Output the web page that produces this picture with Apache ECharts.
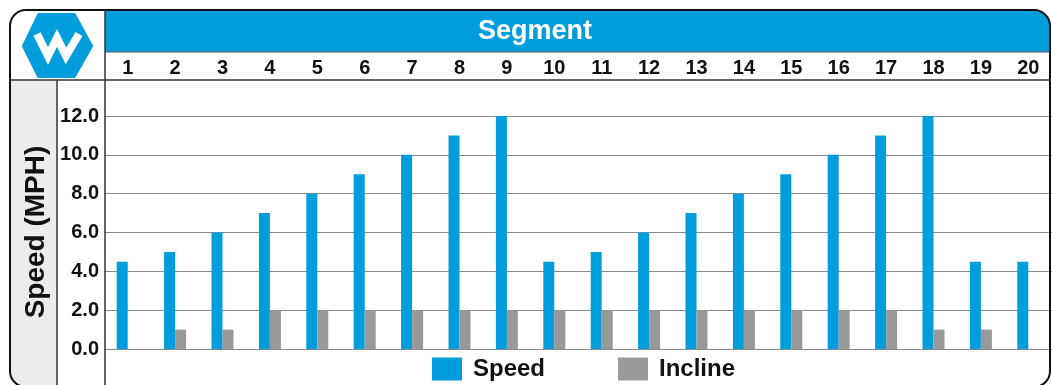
<!DOCTYPE html>
<html>
<head>
<meta charset="utf-8">
<script src="https://cdn.jsdelivr.net/npm/echarts@6/dist/echarts.min.js"></script>
<style>
  html, body { margin: 0; padding: 0; background: #fff; }
  #chart { width: 1052px; height: 385px; }
</style>
</head>
<body>
<div id="chart"></div>
<script>
// data
const segments = ['1', '2', '3', '4', '5', '6', '7', '8', '9', '10',
  '11', '12', '13', '14', '15', '16', '17', '18', '19', '20']
const speed = [4.5, 5, 6, 7, 8, 9, 10, 11, 12, 4.5, 5, 6, 7, 8, 9, 10, 11, 12, 4.5, 4.5]
const incline = [0, 1, 1, 2, 2, 2, 2, 2, 2, 2, 2, 2, 2, 2, 2, 2, 2, 1, 1, 0]
const yTicks = [0, 2, 4, 6, 8, 10, 12]

const blue = '#009ddc'
const gray = '#999999'
const font = '"Liberation Sans", Arial, sans-serif'

const chart = echarts.init(document.getElementById('chart'))

chart.setOption({
  animation: false,
  textStyle: { fontFamily: font },
  graphic: [
    // gray column behind the y axis name
    { type: 'rect', z: 0, shape: { x: 10, y: 80, width: 47, height: 306, r: [0, 0, 0, 16] },
      style: { fill: '#ececec' } },
    // blue header band
    { type: 'rect', z: 0, shape: { x: 105, y: 11, width: 945, height: 41, r: [0, 15, 0, 0] },
      style: { fill: blue } },
    { type: 'line', z: 1, shape: { x1: 105, y1: 52, x2: 1051, y2: 52 },
      style: { stroke: '#555', lineWidth: 1 } },
    { type: 'text', z: 2, left: 478, top: 18,
      style: { text: 'Segment', fill: '#fff', font: 'bold 27px ' + font } },
    // frame
    { type: 'rect', z: 3, shape: { x: 10, y: 10, width: 1040, height: 377, r: 16 },
      style: { fill: 'none', stroke: '#111', lineWidth: 2 } },
    { type: 'line', z: 3, shape: { x1: 10, y1: 80, x2: 1051, y2: 80 },
      style: { stroke: '#333', lineWidth: 1.5 } },
    { type: 'line', z: 3, shape: { x1: 105, y1: 10, x2: 105, y2: 385 },
      style: { stroke: '#333', lineWidth: 1.5 } },
    { type: 'line', z: 3, shape: { x1: 57, y1: 80, x2: 57, y2: 385 },
      style: { stroke: '#333', lineWidth: 1.5 } },
    // logo
    { type: 'polygon', z: 2,
      shape: { points: [[24, 46], [39, 15], [74, 15], [91, 46], [74, 76], [39, 76]] },
      style: { fill: blue, stroke: blue, lineWidth: 4, lineJoin: 'round' } },
    { type: 'polyline', z: 3,
      shape: { points: [[37, 34], [48, 56], [57, 38], [66, 56], [79, 34]] },
      style: { stroke: '#fff', lineWidth: 8, fill: 'none', lineJoin: 'miter' } },
    // y axis name
    { type: 'text', z: 4, x: 36, y: 232, rotation: Math.PI / 2,
      style: { text: 'Speed (MPH)', fill: '#111', font: 'bold 28px ' + font,
        align: 'center', verticalAlign: 'middle' } }
  ],
  legend: {
    left: 432,
    top: 357,
    padding: 0,
    itemWidth: 30,
    itemHeight: 23,
    itemGap: 73,
    icon: 'rect',
    textStyle: { fontSize: 24, fontWeight: 'bold', color: '#111', padding: [0, 0, 0, 6] },
    data: ['Speed', 'Incline']
  },
  grid: {
    left: 104,
    top: 116,
    width: 956,
    height: 233
  },
  xAxis: {
    type: 'category',
    position: 'top',
    data: segments,
    axisLine: { show: false },
    axisTick: { show: false },
    axisLabel: { margin: 38, fontSize: 20, fontWeight: 'bold', color: '#111' }
  },
  yAxis: {
    type: 'value',
    min: 0,
    max: 12,
    interval: 2,
    axisLine: { show: false },
    axisTick: { show: false },
    axisLabel: {
      margin: 5, fontSize: 20, fontWeight: 'bold', color: '#111',
      formatter: v => yTicks.includes(v) ? v.toFixed(1) : ''
    },
    splitLine: { lineStyle: { color: '#8a8a8a', width: 1.2 } }
  },
  series: [
    { name: 'Speed', type: 'bar', data: speed, barWidth: 11, barGap: '0%',
      itemStyle: { color: blue } },
    { name: 'Incline', type: 'bar', data: incline, barWidth: 11,
      itemStyle: { color: gray } }
  ]
})
</script>
</body>
</html>
